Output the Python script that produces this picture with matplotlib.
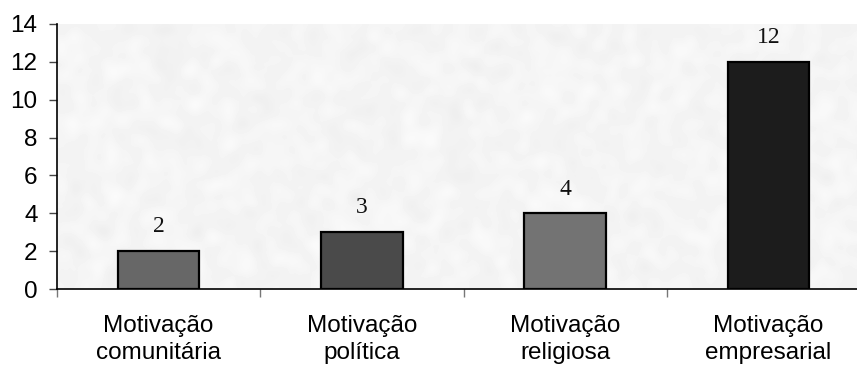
import numpy as np
import matplotlib
matplotlib.use("Agg")
import matplotlib.pyplot as plt

# Dados
categorias = ["Motivação\ncomunitária", "Motivação\npolítica",
              "Motivação\nreligiosa", "Motivação\nempresarial"]
valores = [2, 3, 4, 12]
cores = ["#676767", "#4a4a4a", "#737373", "#1c1c1c"]
yticks = [0, 2, 4, 6, 8, 10, 12, 14]

fig = plt.figure(figsize=(8.57, 3.67), dpi=100)
# area do grafico (passa um pouco da borda direita)
ax = fig.add_axes([57 / 857, 78 / 367, 813 / 857, 265 / 367])

x = np.arange(len(valores))
ax.set_xlim(-0.5, len(valores) - 0.5)
ax.set_ylim(0, 14)

# fundo texturizado bem claro
rng = np.random.default_rng(7)
ruido = rng.normal(size=(70, 220))
k = np.ones(3) / 3
for _ in range(2):
    ruido = np.apply_along_axis(lambda r: np.convolve(r, k, mode="same"), 1, ruido)
    ruido = np.apply_along_axis(lambda c: np.convolve(c, k, mode="same"), 0, ruido)
ruido = (ruido - ruido.min()) / (ruido.max() - ruido.min())
textura = 0.93 + 0.055 * ruido
ax.imshow(textura, cmap="gray", vmin=0, vmax=1, aspect="auto",
          extent=(-0.5, len(valores) - 0.5, 0, 14), zorder=0,
          interpolation="bicubic")

barras = ax.bar(x, valores, width=0.4, color=cores, edgecolor="black",
                linewidth=1.6, zorder=2)

for b, v in zip(barras, valores):
    ax.annotate(str(v), (b.get_x() + b.get_width() / 2, v),
                xytext=(0, 13.5), textcoords="offset points",
                ha="center", va="baseline", fontsize=17,
                family="Liberation Serif", color="#111111")

# eixos
for lado in ["top", "right"]:
    ax.spines[lado].set_visible(False)
ax.spines["left"].set_linewidth(1.2)
ax.spines["bottom"].set_linewidth(1.2)

ax.set_yticks(yticks)
ax.set_yticklabels([str(t) for t in yticks], family="Liberation Sans",
                   fontsize=17.5)
ax.tick_params(axis="y", length=6, width=1.0, pad=8, color="#444444")

ax.set_xticks(x)
ax.set_xticklabels(categorias, family="Liberation Sans", fontsize=17.5,
                   linespacing=1.3)
ax.tick_params(axis="x", which="major", length=0, pad=19)
ax.set_xticks(np.arange(len(valores)) - 0.5, minor=True)
ax.tick_params(axis="x", which="minor", length=6, width=1.0, color="#777777")

fig.savefig("out.png", dpi=100, facecolor="white")
